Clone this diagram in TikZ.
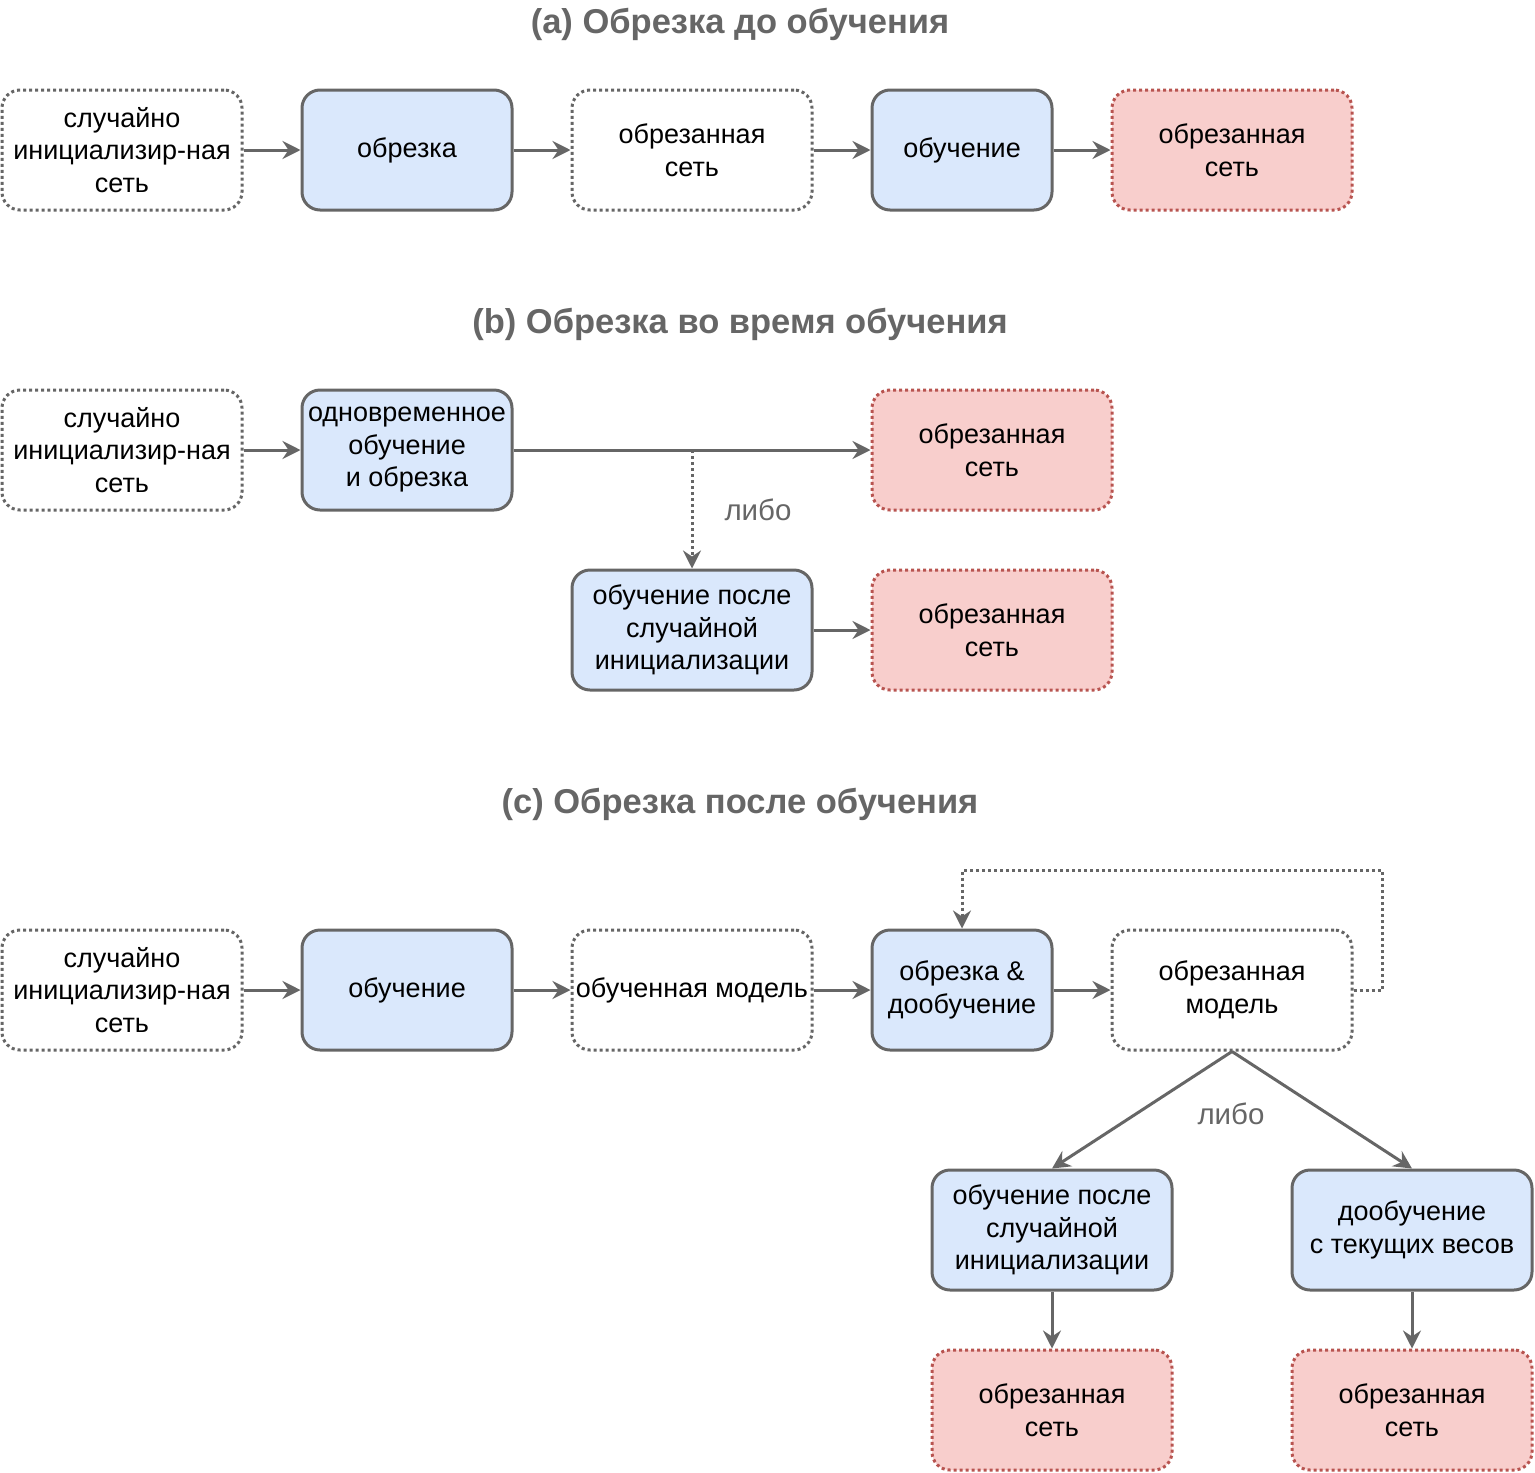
\documentclass[tikz,border=0pt]{standalone}
\usepackage{fontspec}
\setmainfont{Liberation Sans}
\usetikzlibrary{arrows.meta}
\definecolor{linegray}{HTML}{666666}
\definecolor{bluefill}{HTML}{DAE8FC}
\definecolor{redfill}{HTML}{F8CECC}
\definecolor{redline}{HTML}{B85450}
\newcommand{\boxfont}{\fontsize{27}{32.5}\selectfont}
\newcommand{\titlefont}{\fontsize{34.5}{40}\selectfont\bfseries}
\tikzset{
    dotline/.style={dash pattern=on 3pt off 3pt},
    netbox/.style={%Box base
        draw=linegray, line width=3pt, rounded corners=18pt,
        minimum height=120pt, minimum width=240pt, inner sep=0pt,
        align=center, font=\boxfont, text=black},
    plainbox/.style={netbox, dotline, fill=white},
    stagebox/.style={netbox, fill=bluefill},
    resbox/.style={netbox, dotline, fill=redfill, draw=redline},
    arrow/.style={-{Stealth[length=18pt,width=18pt,inset=6pt]}, draw=linegray, line width=3pt},
    heading/.style={font=\titlefont, text=linegray},
    note/.style={font=\fontsize{29.5}{34}\selectfont, text=linegray}
}
\begin{document}
\begin{tikzpicture}[x=1pt,y=-1pt]
\useasboundingbox (0,0) rectangle (1535,1473);
% (a)
\node[heading] (ta) at (740,24) {(a) Обрезка до обучения};
\node[plainbox] (a1) at (122,150) {случайно\\инициализир-ная\\сеть};
\node[stagebox,minimum width=210pt] (a2) at (407,150) {обрезка};
\node[plainbox] (a3) at (692,150) {обрезанная\\сеть};
\node[stagebox,minimum width=180pt] (a4) at (962,150) {обучение};
\node[resbox] (a5) at (1232,150) {обрезанная\\сеть};
\draw[arrow] (a1) -- (a2);
\draw[arrow] (a2) -- (a3);
\draw[arrow] (a3) -- (a4);
\draw[arrow] (a4) -- (a5);
% (b)
\node[heading] (tb) at (740,324) {(b) Обрезка во время обучения};
\node[plainbox] (b1) at (122,450) {случайно\\инициализир-ная\\сеть};
\node[stagebox,minimum width=210pt] (b2) at (407,450) {одновременное\\обучение\\и обрезка};
\node[resbox] (b3) at (992,450) {обрезанная\\сеть};
\node[stagebox] (b4) at (692,630) {обучение после\\случайной\\инициализации};
\node[resbox] (b5) at (992,630) {обрезанная\\сеть};
\coordinate (bsplit) at (692,450);
\draw[arrow] (b1) -- (b2);
\draw[arrow] (b2) -- (b3);
\draw[arrow,dotline] (bsplit) -- (b4);
\node[note] (lb) at (758,510) {либо};
\draw[arrow] (b4) -- (b5);
% (c)
\node[heading] (tc) at (740,804) {(c) Обрезка после обучения};
\node[plainbox] (c1) at (122,990) {случайно\\инициализир-ная\\сеть};
\node[stagebox,minimum width=210pt] (c2) at (407,990) {обучение};
\node[plainbox] (c3) at (692,990) {обученная модель};
\node[stagebox,minimum width=180pt] (c4) at (962,990) {обрезка \&\\дообучение};
\node[plainbox] (c5) at (1232,990) {обрезанная\\модель};
\node[stagebox] (c6) at (1052,1230) {обучение после\\случайной\\инициализации};
\node[stagebox] (c7) at (1412,1230) {дообучение\\с текущих весов};
\node[resbox] (c8) at (1052,1410) {обрезанная\\сеть};
\node[resbox] (c9) at (1412,1410) {обрезанная\\сеть};
\coordinate (cloop) at (1382,870);
\draw[arrow] (c1) -- (c2);
\draw[arrow] (c2) -- (c3);
\draw[arrow] (c3) -- (c4);
\draw[arrow] (c4) -- (c5);
\draw[arrow,dotline] (c5.east) -| (cloop) -| (c4.north);
\draw[arrow] (c5.south) -- (c6.north);
\draw[arrow] (c5.south) -- (c7.north);
\node[note] (lc) at (1231,1114) {либо};
\draw[arrow] (c6) -- (c8);
\draw[arrow] (c7) -- (c9);
\end{tikzpicture}
\end{document}
